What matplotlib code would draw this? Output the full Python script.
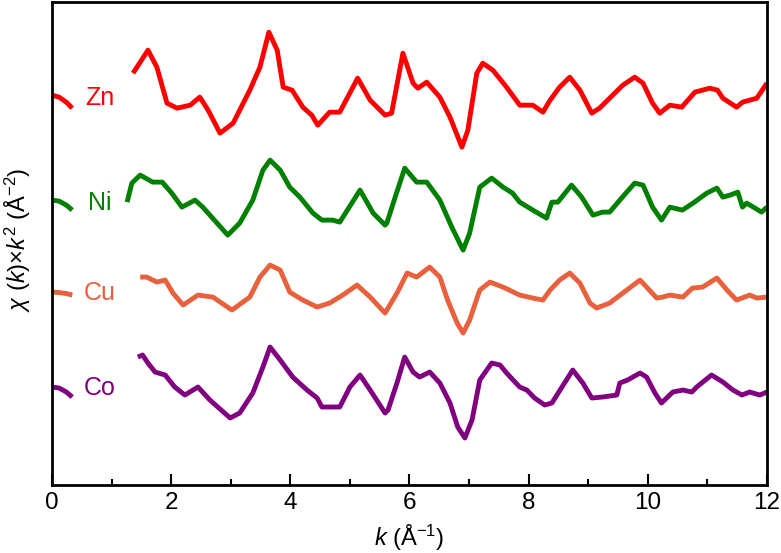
import numpy as np
import matplotlib
matplotlib.use('Agg')
import matplotlib.pyplot as plt
from matplotlib.ticker import MultipleLocator

plt.rcParams['font.family'] = ['Liberation Sans', 'DejaVu Sans']
plt.rcParams['mathtext.fontset'] = 'custom'
plt.rcParams['mathtext.rm'] = 'Liberation Sans'
plt.rcParams['mathtext.it'] = 'Liberation Sans:italic'

# short segment drawn left of each label (k, value)
stub_k = [0.0, 0.12, 0.24, 0.34]
zn_stub = [5, 3, -2, -8]
ni_stub = [5, 4, 0, -5]
cu_stub = [3, 2.5, 1.5, 0]
co_stub = [3, 2, -2, -7]

# main spectra
zn_k = [1.36, 1.61, 1.76, 1.93, 2.10, 2.32, 2.48, 2.62, 2.82, 3.04, 3.32, 3.49, 3.64, 3.78,
        3.88, 4.03, 4.21, 4.36, 4.46, 4.66, 4.83, 5.13, 5.34, 5.59, 5.70, 5.89, 6.06, 6.14,
        6.29, 6.51, 6.68, 6.88, 6.98, 7.13, 7.23, 7.40, 7.63, 7.85, 8.07, 8.24, 8.36, 8.52,
        8.69, 8.86, 9.06, 9.19, 9.36, 9.58, 9.78, 9.92, 10.08, 10.20, 10.37, 10.57, 10.79,
        11.04, 11.17, 11.26, 11.49, 11.59, 11.83, 12.0]
zn_chi = [27, 50, 33, -3, -8, -5, 3, -10, -33, -23, 10, 33, 68, 50,
          13, 10, -7, -15, -25, -12, -12, 22, 0, -15, -13, 47, 17, 12,
          18, 3, -17, -47, -30, 27, 37, 30, 13, -5, -5, -12, 0, 13,
          23, 10, -13, -8, 2, 15, 23, 17, -3, -13, -5, -7, 8,
          12, 10, 2, -7, -2, 2, 17]

ni_k = [1.26, 1.34, 1.48, 1.69, 1.85, 2.01, 2.18, 2.40, 2.53, 2.77, 2.95, 3.15, 3.37, 3.54,
        3.66, 3.83, 3.99, 4.16, 4.38, 4.53, 4.71, 4.83, 5.17, 5.39, 5.59, 5.62, 5.76, 5.92,
        6.12, 6.29, 6.51, 6.71, 6.90, 7.01, 7.18, 7.38, 7.57, 7.73, 7.85, 8.07, 8.30, 8.39,
        8.49, 8.72, 8.89, 9.08, 9.24, 9.36, 9.53, 9.78, 9.92, 10.08, 10.23, 10.37, 10.58,
        10.76, 10.99, 11.16, 11.26, 11.38, 11.51, 11.59, 11.66, 11.91, 12.0]
ni_chi = [3, 22, 30, 23, 23, 12, -2, 5, -2, -18, -30, -18, 5, 35,
          45, 35, 18, 8, -8, -15, -15, -17, 15, -8, -20, -18, 8, 37,
          23, 23, 5, -22, -45, -28, 18, 27, 18, 12, 3, -5, -13, 3,
          3, 20, 8, -10, -7, -7, 5, 22, 20, -2, -15, -2, -5,
          2, 12, 17, 8, 10, 13, -2, 2, -7, -2]

cu_k = [1.48, 1.59, 1.76, 1.90, 2.03, 2.20, 2.45, 2.70, 3.02, 3.32, 3.49, 3.66, 3.83, 3.99,
        4.21, 4.45, 4.66, 4.88, 5.12, 5.34, 5.59, 5.62, 5.79, 5.96, 6.12, 6.34, 6.51, 6.64,
        6.80, 6.90, 7.01, 7.18, 7.35, 7.57, 7.85, 8.07, 8.24, 8.36, 8.52, 8.69, 8.86, 9.03,
        9.14, 9.36, 9.58, 9.87, 9.98, 10.15, 10.25, 10.37, 10.59, 10.75, 10.92, 11.16, 11.33,
        11.49, 11.71, 11.83, 12.0]
cu_chi = [18, 18, 13, 15, 2, -10, 0, -2, -15, -2, 18, 30, 25, 3,
          -5, -12, -8, 0, 10, -2, -18, -15, 2, 22, 18, 28, 18, -5,
          -28, -38, -25, 5, 13, 8, 0, -3, -5, 5, 15, 22, 12, -8,
          -13, -8, 2, 15, 8, -3, -2, 0, -2, 7, 8, 17, 5,
          -5, 0, -3, -2]

co_k = [1.44, 1.52, 1.61, 1.73, 1.90, 2.06, 2.23, 2.45, 2.65, 2.99, 3.15, 3.37, 3.54, 3.66,
        3.83, 4.04, 4.28, 4.45, 4.53, 4.83, 5.00, 5.17, 5.34, 5.59, 5.64, 5.79, 5.92, 6.06,
        6.17, 6.34, 6.51, 6.68, 6.81, 6.93, 7.05, 7.18, 7.38, 7.52, 7.63, 7.85, 7.97, 8.10,
        8.27, 8.39, 8.56, 8.74, 8.91, 9.06, 9.24, 9.48, 9.53, 9.66, 9.87, 9.98, 10.12, 10.23,
        10.42, 10.59, 10.74, 10.82, 11.07, 11.26, 11.43, 11.58, 11.71, 11.88, 12.0]
co_chi = [33, 35, 27, 18, 15, 3, -5, 3, -10, -28, -23, -3, 23, 43,
          30, 13, 0, -8, -17, -17, 3, 15, 0, -23, -20, 7, 33, 18,
          13, 18, 7, -13, -37, -48, -30, 10, 27, 25, 17, 3, 0, -8,
          -15, -13, 3, 20, 7, -8, -7, -5, 7, 10, 17, 13, -3, -13,
          -2, 0, -2, 3, 15, 8, 0, -5, -2, -5, -2]

names = ['Zn', 'Ni', 'Cu', 'Co']
colors = ['#ff0000', '#008000', '#e8603c', '#800080']
offsets = [385, 280, 190, 95]

stubs = [zn_stub, ni_stub, cu_stub, co_stub]
ks = [zn_k, ni_k, cu_k, co_k]
chis = [zn_chi, ni_chi, cu_chi, co_chi]

fig = plt.figure(figsize=(7.81, 5.53), dpi=100)
ax = fig.add_axes([0.0666, 0.123, 0.9154, 0.873])

for name, c, off, st, k, chi in zip(names, colors, offsets, stubs, ks, chis):
    ax.plot(stub_k, np.array(st) + off, color=c, lw=3.5,
            solid_capstyle='butt', solid_joinstyle='round')
    ax.plot(k, np.array(chi) + off, color=c, lw=3.5,
            solid_capstyle='butt', solid_joinstyle='round')
    ax.text(0.8, off + 2, name, color=c, fontsize=18, ha='center', va='center')

ax.set_xlim(0, 12)
ax.set_ylim(0, 483)
ax.xaxis.set_major_locator(MultipleLocator(2))
ax.xaxis.set_minor_locator(MultipleLocator(1))
ax.set_yticks([])
ax.tick_params(axis='x', which='major', direction='in', length=8, width=1.5, labelsize=17.5, pad=5)
ax.tick_params(axis='x', which='minor', direction='in', length=4, width=1.5)
for s in ax.spines.values():
    s.set_linewidth(2)

ax.set_xlabel(r'$k$ ($\mathrm{\AA}^{-1}$)', fontsize=17)
ax.set_ylabel(r'$\chi$ ($k$)$\times k^2$ ($\mathrm{\AA}^{-2}$)', fontsize=17)
ax.xaxis.set_label_coords(0.5, -0.079)
ax.yaxis.set_label_coords(-0.027, 0.507)

fig.savefig('out.png', dpi=100)
